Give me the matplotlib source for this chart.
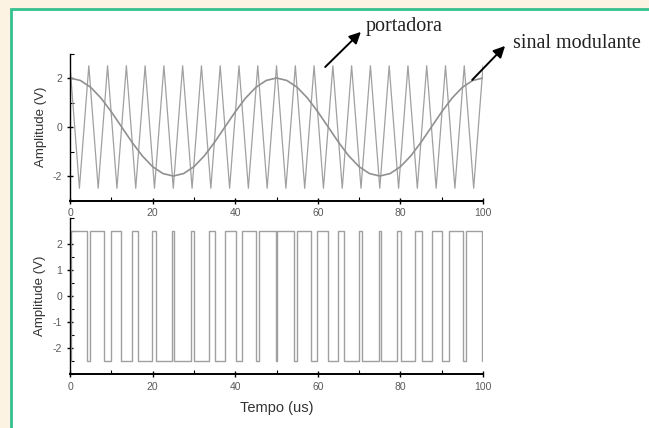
import matplotlib
matplotlib.use('Agg')
import matplotlib.pyplot as plt
from matplotlib.patches import Rectangle
from matplotlib.ticker import MultipleLocator

# portadora (onda triangular) - vertices
carrier_t = [0, 2.27, 4.55, 6.82, 9.09, 11.36, 13.64, 15.91, 18.18, 20.45, 22.73,
             25.0, 27.27, 29.55, 31.82, 34.09, 36.36, 38.64, 40.91, 43.18, 45.45,
             47.73, 50.0, 52.27, 54.55, 56.82, 59.09, 61.36, 63.64, 65.91, 68.18,
             70.45, 72.73, 75.0, 77.27, 79.55, 81.82, 84.09, 86.36, 88.64, 90.91,
             93.18, 95.45, 97.73, 100.0]
carrier_v = [2.5, -2.5, 2.5, -2.5, 2.5, -2.5, 2.5, -2.5, 2.5, -2.5, 2.5,
             -2.5, 2.5, -2.5, 2.5, -2.5, 2.5, -2.5, 2.5, -2.5, 2.5,
             -2.5, 2.5, -2.5, 2.5, -2.5, 2.5, -2.5, 2.5, -2.5, 2.5,
             -2.5, 2.5, -2.5, 2.5, -2.5, 2.5, -2.5, 2.5, -2.5, 2.5,
             -2.5, 2.5, -2.5, 2.5]

# sinal modulante
mod_t = [0, 2.5, 5, 7.5, 10, 12.5, 15, 17.5, 20, 22.5, 25, 27.5, 30, 32.5, 35, 37.5,
         40, 42.5, 45, 47.5, 50, 52.5, 55, 57.5, 60, 62.5, 65, 67.5, 70, 72.5, 75,
         77.5, 80, 82.5, 85, 87.5, 90, 92.5, 95, 97.5, 100]
mod_v = [2.00, 1.90, 1.62, 1.18, 0.62, 0.00, -0.62, -1.18, -1.62, -1.90, -2.00,
         -1.90, -1.62, -1.18, -0.62, 0.00, 0.62, 1.18, 1.62, 1.90, 2.00,
         1.90, 1.62, 1.18, 0.62, 0.00, -0.62, -1.18, -1.62, -1.90, -2.00,
         -1.90, -1.62, -1.18, -0.62, 0.00, 0.62, 1.18, 1.62, 1.90, 2.00]

# saida PWM: instantes de transicao e nivel inicial
pwm_edges = [0.23, 4.17, 4.92, 8.33, 9.85, 12.37, 14.90, 16.45, 19.91, 20.72, 24.74,
             25.26, 29.28, 30.09, 33.55, 35.10, 37.63, 40.15, 41.67, 45.08, 45.83,
             49.77, 50.23, 54.17, 54.92, 58.33, 59.85, 62.37, 64.90, 66.45, 69.91,
             70.72, 74.74, 75.26, 79.28, 80.09, 83.55, 85.10, 87.63, 90.15, 91.67,
             95.08, 95.83, 99.77]
pwm_start = -2.5
pwm_high = 2.5

x_ticks = [0, 20, 40, 60, 80, 100]
top_y_ticks = [-2, 0, 2]
bottom_y_ticks = [-2, -1, 0, 1, 2]

FONT = 'Liberation Sans'
TICK_COLOR = '#5a5a5a'

matplotlib.rcParams['axes.unicode_minus'] = False


def style_axis(ax, y_ticks, minor_y):
    ax.set_xlim(0, 100)
    ax.set_ylim(-3, 3)
    ax.spines['top'].set_visible(False)
    ax.spines['right'].set_visible(False)
    ax.spines['left'].set_linewidth(1.0)
    ax.spines['bottom'].set_linewidth(1.4)
    ax.set_xticks(x_ticks)
    ax.set_yticks(y_ticks)
    ax.xaxis.set_minor_locator(MultipleLocator(10))
    ax.yaxis.set_minor_locator(MultipleLocator(minor_y))
    ax.tick_params(which='major', direction='inout', length=5, width=1,
                   labelsize=7.5, labelcolor=TICK_COLOR, pad=3)
    ax.tick_params(which='minor', direction='in', length=3, width=0.8)
    for lbl in ax.get_xticklabels() + ax.get_yticklabels():
        lbl.set_fontfamily(FONT)
    ax.set_facecolor('none')


fig = plt.figure(figsize=(6.49, 4.28), dpi=100)
fig.patch.set_facecolor('#fcf3e3')
panel = Rectangle((11 / 649, -0.05), 1.05, 1 - 9 / 428 + 0.05,
                  transform=fig.transFigure, facecolor='white',
                  edgecolor='#35c08f', linewidth=2, zorder=-10)
fig.add_artist(panel)

# grafico superior: portadora + modulante
ax1 = fig.add_axes([0.1079, 0.5315, 0.6364, 0.3435])
ax1.plot(carrier_t, carrier_v, color='#a0a0a0', linewidth=0.9)
ax1.plot(mod_t, mod_v, color='#909090', linewidth=1.2)
style_axis(ax1, top_y_ticks, 1)
ax1.set_ylabel('Amplitude (V)', fontsize=9.5, family=FONT, color='#333333', labelpad=4)

arrow = dict(arrowstyle='-|>', color='black', lw=1.4, mutation_scale=17)
ax1.annotate('', xy=(70.9, 3.96), xytext=(61.3, 2.37), xycoords='data',
             annotation_clip=False, arrowprops=arrow)
ax1.text(71.5, 4.12, 'portadora', fontsize=14.5, family='Liberation Serif',
         ha='left', va='center', color='#222222', clip_on=False)
ax1.annotate('', xy=(105.8, 3.39), xytext=(96.9, 1.84), xycoords='data',
             annotation_clip=False, arrowprops=arrow)
ax1.text(107.2, 3.4, 'sinal modulante', fontsize=14.5, family='Liberation Serif',
         ha='left', va='center', color='#222222', clip_on=False)

# grafico inferior: saida PWM
step_t = [0] + pwm_edges + [100]
step_v = []
level = pwm_start
for i in range(len(pwm_edges) + 1):
    step_v.append(level)
    level = pwm_high if level == pwm_start else pwm_start
step_v.append(step_v[-1])

ax2 = fig.add_axes([0.1079, 0.1262, 0.6364, 0.3645])
ax2.step(step_t, step_v, where='post', color='#a0a0a0', linewidth=1.0)
style_axis(ax2, bottom_y_ticks, 0.5)
ax2.set_ylabel('Amplitude (V)', fontsize=9.5, family=FONT, color='#333333', labelpad=5)
ax2.set_xlabel('Tempo (us)', fontsize=10.5, family=FONT, color='#333333', labelpad=7)

plt.savefig('out.png', dpi=100, facecolor=fig.get_facecolor())
